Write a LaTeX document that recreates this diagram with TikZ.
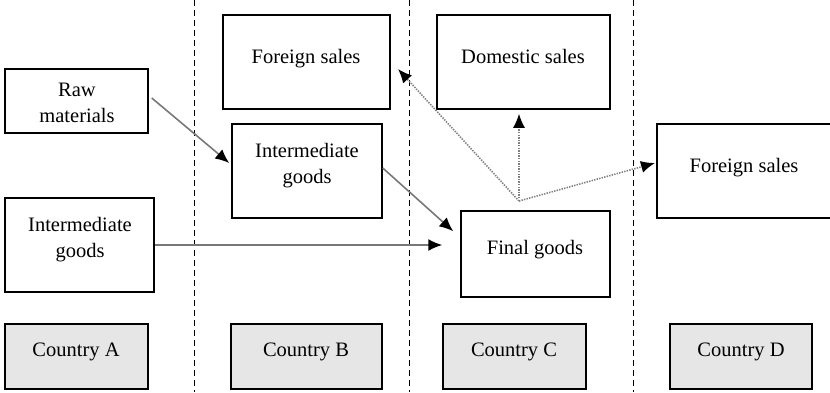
\documentclass[tikz,border=0pt]{standalone}
\usepackage{fontspec}
\setmainfont{Liberation Serif}
\usetikzlibrary{arrows.meta,calc}
\definecolor{boxgray}{HTML}{E6E6E6}
\definecolor{flowgray}{HTML}{787878}
\definecolor{salegray}{HTML}{808080}
\begin{document}
\begin{tikzpicture}[x=1pt,y=-1pt,
  box/.style={draw=black,line width=1.5pt,rectangle,inner sep=0pt},
  cbox/.style={box,fill=boxgray},
  lbl/.style={font=\fontsize{20.5}{26}\selectfont,anchor=base,align=center,inner sep=0pt},
  flow/.style={draw=flowgray,line width=1.6pt,-{Latex[length=14pt,width=12pt,black]}},
  sale/.style={flow,draw=salegray,dash pattern=on 1.4pt off 1.2pt},
  divider/.style={line width=1pt,dash pattern=on 6pt off 4pt}]
\useasboundingbox (0,0) rectangle (830,392);
\clip (0,0) rectangle (830,392);

% country borders
\draw[divider] (194,0) -- (194,392);
\draw[divider] (409,0) -- (409,392);
\draw[divider] (633,0) -- (633,392);

% stage boxes
\node[box,minimum width=143pt,minimum height=64pt] (raw) at (76.5,101) {};
\node[box,minimum width=149pt,minimum height=94pt] (imA) at (79.5,245) {};
\node[box,minimum width=167pt,minimum height=94pt] (fsB) at (306.5,62) {};
\node[box,minimum width=150pt,minimum height=94pt] (imB) at (307,171) {};
\node[box,minimum width=173pt,minimum height=94pt] (dom) at (523.5,62) {};
\node[box,minimum width=149pt,minimum height=86pt] (fin) at (535.5,254) {};
\node[box,minimum width=183pt,minimum height=94pt] (fsD) at (748.5,171) {};

% box texts (base anchor sits on the last line)
\node[lbl] (rawT) at (77,122) {Raw\\materials};
\node[lbl] (imAT) at (80,257) {Intermediate\\goods};
\node[lbl] (fsBT) at (306,63) {Foreign sales};
\node[lbl] (imBT) at (307,183) {Intermediate\\goods};
\node[lbl] (domT) at (523,63) {Domestic sales};
\node[lbl] (finT) at (535,254) {Final goods};
\node[lbl] (fsDT) at (744,172) {Foreign sales};

% country boxes
\node[cbox,minimum width=143pt,minimum height=65pt] (cA) at (76.5,356.5) {};
\node[cbox,minimum width=151pt,minimum height=65pt] (cB) at (306.5,356.5) {};
\node[cbox,minimum width=143pt,minimum height=65pt] (cC) at (514.5,356.5) {};
\node[cbox,minimum width=142pt,minimum height=65pt] (cD) at (741,356.5) {};
\node[lbl] (cAT) at (76,356) {Country A};
\node[lbl] (cBT) at (306,356) {Country B};
\node[lbl] (cCT) at (514,356) {Country C};
\node[lbl] (cDT) at (741,356) {Country D};

% production flows
\draw[flow] ([xshift=3pt,yshift=3pt]raw.east) -- ([xshift=-2pt,yshift=8pt]imB.west);
\draw[flow] ([yshift=3pt]imB.east) -- ([xshift=-7pt,yshift=-21pt]fin.north west);
\draw[flow,shorten >=18pt] (imA.east) -- (imA.east -| fin.west);

% sales flows
\coordinate (split) at (519,201);
\coordinate (toB) at (398,69);
\coordinate (toD) at (655,163);
\draw[sale] (split) -- (toB);
\draw[sale,shorten >=4pt] (split) -- (split |- dom.south);
\draw[sale] (split) -- (toD);
\end{tikzpicture}
\end{document}
